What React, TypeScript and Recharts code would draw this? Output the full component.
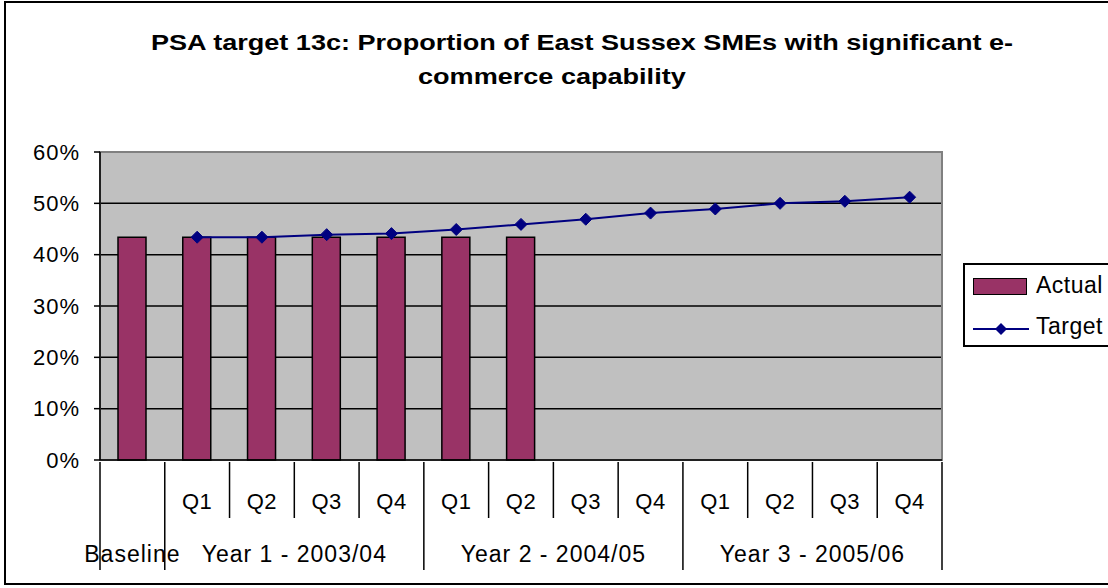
import { ComposedChart, Bar, Line, XAxis, YAxis, CartesianGrid, ReferenceArea } from 'recharts'

const categories = ['', 'Q1', 'Q2', 'Q3', 'Q4', 'Q1', 'Q2', 'Q3', 'Q4', 'Q1', 'Q2', 'Q3', 'Q4']
const groupOf = [
  'Baseline',
  'Year 1 - 2003/04', 'Year 1 - 2003/04', 'Year 1 - 2003/04', 'Year 1 - 2003/04',
  'Year 2 - 2004/05', 'Year 2 - 2004/05', 'Year 2 - 2004/05', 'Year 2 - 2004/05',
  'Year 3 - 2005/06', 'Year 3 - 2005/06', 'Year 3 - 2005/06', 'Year 3 - 2005/06',
]
const actual = [43.4, 43.4, 43.4, 43.4, 43.4, 43.4, 43.4, null, null, null, null, null, null]
const target = [null, 43.4, 43.4, 43.9, 44.1, 44.9, 45.9, 46.9, 48.1, 48.9, 50.0, 50.4, 51.2]
const yTicks = [0, 10, 20, 30, 40, 50, 60]

const TITLE_1 = 'PSA target 13c: Proportion of East Sussex SMEs with significant e-'
const TITLE_2 = 'commerce capability'

const W = 1108
const H = 588
const MARGIN = { top: 152, right: 166, bottom: 20, left: 10 }
const Y_W = 90
const BAND = (W - MARGIN.left - Y_W - MARGIN.right) / categories.length
const FONT = '"Liberation Sans", Arial, sans-serif'

const data = categories.map((c, i) => ({ key: `${i}`, actual: actual[i], target: target[i] }))

function CatTick({ x, y, payload }: any) {
  const i = payload.index
  const left = x - BAND / 2
  const newGroup = i === 0 || groupOf[i] !== groupOf[i - 1]
  let span = 1
  while (i + span < groupOf.length && groupOf[i + span] === groupOf[i]) span++
  const last = i === categories.length - 1
  return (
    <g>
      <line x1={left} x2={left} y1={y} y2={y + (newGroup ? 108 : 56)} stroke="#000" strokeWidth={1.5} />
      {last && <line x1={left + BAND} x2={left + BAND} y1={y} y2={y + 108} stroke="#000" strokeWidth={1.5} />}
      <text x={x} y={y + 47} textAnchor="middle" fontSize={22} fill="#000" fontFamily={FONT} letterSpacing={0.5}>
        {categories[i]}
      </text>
      {newGroup && (
        <text
          x={left + (span * BAND) / 2}
          y={y + 100}
          textAnchor="middle"
          fontSize={23}
          fill="#000"
          fontFamily={FONT}
          letterSpacing={1}
        >
          {groupOf[i]}
        </text>
      )}
    </g>
  )
}

function Diamond({ cx, cy, index }: any) {
  if (cx == null || cy == null) return <g key={index} />
  const r = 6
  return (
    <polygon
      key={index}
      points={`${cx},${cy - r} ${cx + r},${cy} ${cx},${cy + r} ${cx - r},${cy}`}
      fill="#000080"
      stroke="#000080"
    />
  )
}

function LegendBox() {
  return (
    <div
      style={{
        position: 'absolute',
        left: 963,
        top: 263,
        width: 200,
        height: 80,
        border: '2px solid #000',
        background: '#fff',
        fontFamily: FONT,
        fontSize: 23,
      }}
    >
      <div style={{ position: 'absolute', left: 8, top: 13, width: 52, height: 15, background: '#993366', border: '1.5px solid #000' }} />
      <div style={{ position: 'absolute', left: 71, top: 6, lineHeight: '28px', letterSpacing: 0.5 }}>Actual</div>
      <svg style={{ position: 'absolute', left: 8, top: 56 }} width={56} height={16}>
        <line x1={0} x2={56} y1={8} y2={8} stroke="#000080" strokeWidth={2} />
        <polygon points="28,2 34,8 28,14 22,8" fill="#000080" />
      </svg>
      <div style={{ position: 'absolute', left: 71, top: 47, lineHeight: '28px', letterSpacing: 0.5 }}>Target</div>
    </div>
  )
}

const titleStyle = {
  position: 'absolute' as const,
  fontFamily: FONT,
  fontWeight: 700,
  fontSize: 22,
  whiteSpace: 'nowrap' as const,
  transformOrigin: 'left top',
  transform: 'scaleX(1.23)',
}

export default function App() {
  return (
    <div style={{ position: 'absolute', left: 0, top: 0, width: W, height: H, overflow: 'hidden', background: '#fff' }}>
      <div
        style={{
          position: 'absolute',
          left: 4,
          top: 1,
          width: 1300,
          height: 580,
          border: '2px solid #000',
        }}
      />
      <div style={{ ...titleStyle, left: 151, top: 30 }}>{TITLE_1}</div>
      <div style={{ ...titleStyle, left: 418, top: 64 }}>{TITLE_2}</div>
      <div style={{ position: 'absolute', left: 0, top: 0 }}>
        <ComposedChart width={W} height={H} data={data} margin={MARGIN} barCategoryGap={0}>
          <CartesianGrid vertical={false} horizontal stroke="#000" strokeWidth={1.5} fill="#C0C0C0" fillOpacity={1} />
          <ReferenceArea y1={0} y2={60} fill="none" stroke="#808080" strokeWidth={2} ifOverflow="visible" />
          <XAxis
            dataKey="key"
            tick={<CatTick />}
            tickLine={false}
            tickSize={0}
            height={108}
            interval={0}
            axisLine={{ stroke: '#000', strokeWidth: 1.5 }}
          />
          <YAxis
            domain={[0, 60]}
            ticks={yTicks}
            width={Y_W}
            tickFormatter={(v: number) => `${v}%`}
            tick={{ fill: '#000', fontSize: 22, fontFamily: FONT, letterSpacing: 1 }}
            tickSize={6}
            tickMargin={14}
            tickLine={{ stroke: '#000', strokeWidth: 1.5 }}
            axisLine={{ stroke: '#000', strokeWidth: 1.5 }}
          />
          <Bar dataKey="actual" barSize={28} fill="#993366" stroke="#000" strokeWidth={1.5} isAnimationActive={false} />
          <Line
            dataKey="target"
            stroke="#000080"
            strokeWidth={2}
            dot={<Diamond />}
            activeDot={false}
            connectNulls={false}
            isAnimationActive={false}
          />
        </ComposedChart>
      </div>
      <LegendBox />
    </div>
  )
}
